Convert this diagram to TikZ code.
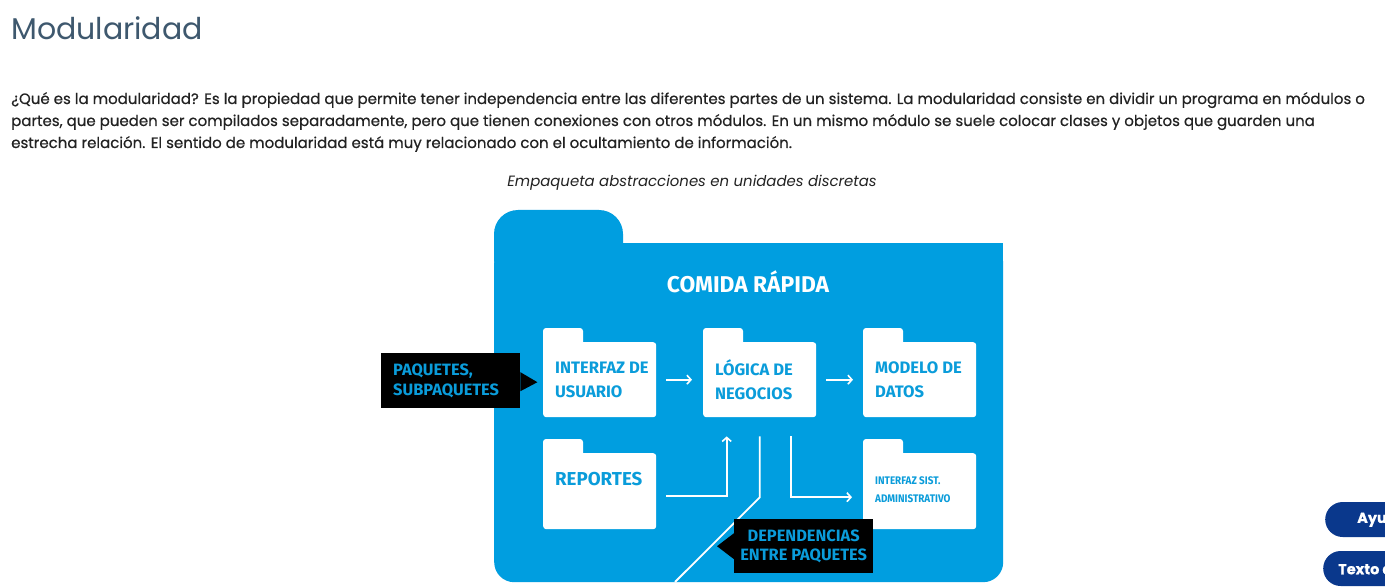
\documentclass[tikz,border=0pt]{standalone}
\usepackage{fontspec}
\setmainfont{Open Sans}
\newfontfamily\titlefont{Poppins}
\newfontfamily\bodyfont[FakeBold=0.5]{Poppins}
\newfontfamily\dinfont{Fira Sans}
\newfontfamily\dincond[FakeStretch=0.9]{Fira Sans}
\usetikzlibrary{arrows.meta}
\definecolor{mblue}{RGB}{0,158,224}
\definecolor{tblue}{RGB}{10,156,218}
\definecolor{titlec}{RGB}{62,88,110}
\definecolor{bodyc}{RGB}{34,34,34}
\definecolor{pillc}{RGB}{10,56,140}
\tikzset{
  folder/.style={fill=white, rounded corners=3pt, minimum width=113pt, inner sep=0pt, anchor=north west},
  lbl/.style={text=tblue, font=\dinfont\bfseries\fontsize{16.6}{24}\selectfont, align=left, inner sep=0pt, anchor=west},
  callout/.style={fill=black, text=tblue, font=\dinfont\bfseries\fontsize{16.4}{19.5}\selectfont, inner sep=0pt, anchor=north west, minimum width=139pt},
  arr/.style={draw=white, line width=1.8pt, -{Straight Barb[length=4pt,width=9pt,line width=1.6pt]}},
  wline/.style={draw=white, line width=1.8pt},
  bodyline/.style={anchor=base west, inner sep=0pt, text=bodyc, font=\bodyfont\fontsize{15}{22}\selectfont},
  pill/.style={fill=pillc, text=white, rounded corners=17.5pt, minimum height=35pt, inner ysep=0pt, anchor=west, font=\bodyfont\bfseries\fontsize{14.5}{18}\selectfont}
}
\begin{document}
\begin{tikzpicture}[x=1pt,y=-1pt]
\useasboundingbox[fill=white] (0,0) rectangle (1385,588);

% title
\node[anchor=base west, inner sep=0pt, text=titlec, font=\titlefont\fontsize{30}{36}\selectfont] (title) at (11,40) {Modularidad};

% body text
\node[bodyline] (l1) at (11,104) {¿Qué es la modularidad? Es la propiedad que permite tener independencia entre las diferentes partes de un sistema. La modularidad consiste en dividir un programa en módulos o};
\node[bodyline] (l2) at (11,126) {partes, que pueden ser compilados separadamente, pero que tienen conexiones con otros módulos. En un mismo módulo se suele colocar clases y objetos que guarden una};
\node[bodyline] (l3) at (11,148) {estrecha relación. El sentido de modularidad está muy relacionado con el ocultamiento de información.};

% caption
\node[inner sep=0pt, text=bodyc, font=\titlefont\itshape\fontsize{14.9}{18}\selectfont] (cap) at (692,183) {Empaqueta abstracciones en unidades discretas};

% big package
\node[fill=mblue, rounded corners=20pt, minimum width=509pt, minimum height=339pt, inner sep=0pt, anchor=north west] (pkg) at (494,243) {};
\fill[mblue, rounded corners=24pt] ([yshift=-40pt]pkg.north west) rectangle ++(129,-73);
\fill[mblue] ([xshift=-30pt]pkg.north east) rectangle ++(30,30);
\node[text=white, inner sep=0pt, font=\dinfont\bfseries\fontsize{22.8}{24}\selectfont] (pkgt) at (748,282) {COMIDA RÁPIDA};

% small folders
\node[folder, minimum height=75pt] (iu) at (543,342) {};
\node[folder, minimum height=75pt] (lg) at (703,342) {};
\node[folder, minimum height=75pt] (md) at (863,342) {};
\node[folder, minimum height=76pt] (rep) at (543,453) {};
\node[folder, minimum height=76pt] (isa) at (863,453) {};
\foreach \n in {iu,lg,md,rep,isa}
  \fill[white, rounded corners=3pt] ([yshift=-6pt]\n.north west) rectangle ++(40,-20);

\node[lbl] (iut) at ([xshift=12pt]iu.west) {INTERFAZ DE\\USUARIO};
\node[lbl] (lgt) at ([xshift=12pt]lg.west) {LÓGICA DE\\NEGOCIOS};
\node[lbl] (mdt) at ([xshift=12pt]md.west) {MODELO DE\\DATOS};
\node[lbl, font=\dinfont\bfseries\fontsize{18.7}{24}\selectfont] (rept) at ([xshift=12pt,yshift=12pt]rep.west) {REPORTES};
\node[lbl, font=\dincond\bfseries\fontsize{11}{18}\selectfont] (isat) at ([xshift=12pt,yshift=2pt]isa.west) {INTERFAZ SIST.\\ADMINISTRATIVO};

% connectors
\draw[arr] ([xshift=10pt]iu.east) -- ([xshift=-11pt]lg.west);
\draw[arr] ([xshift=10pt]lg.east) -- ([xshift=-10pt]md.west);
\draw[arr] ([xshift=10pt,yshift=-5pt]rep.east) -| ([xshift=-33pt,yshift=-19pt]lg.south);
\draw[arr] ([xshift=31pt,yshift=-19pt]lg.south) |- ([xshift=-11pt,yshift=-6pt]isa.west);
\coordinate (dend) at (675,582);
\draw[wline] ([yshift=-19pt]lg.south) -- ++(0,61) -- (dend);

% callouts
\node[callout, minimum height=55pt, align=left, inner xsep=12pt, text width=115pt] (pq) at (381,353) {PAQUETES,\\SUBPAQUETES};
\fill[black] ([yshift=8.5pt]pq.east) -- ++(17,10) -- ++(-17,9) -- cycle;
\node[callout, minimum height=54pt, align=center] (dp) at (734,519) {DEPENDENCIAS\\ENTRE PAQUETES};
\fill[black] ([yshift=13pt]dp.west) -- ++(-17,13) -- ++(17,13) -- cycle;

% side buttons
\node[pill, inner xsep=32pt] (ay) at (1325,519.5) {Ayuda};
\node[pill, inner xsep=15pt] (tx) at (1323,568.5) {Texto alternativo};
\end{tikzpicture}
\end{document}
